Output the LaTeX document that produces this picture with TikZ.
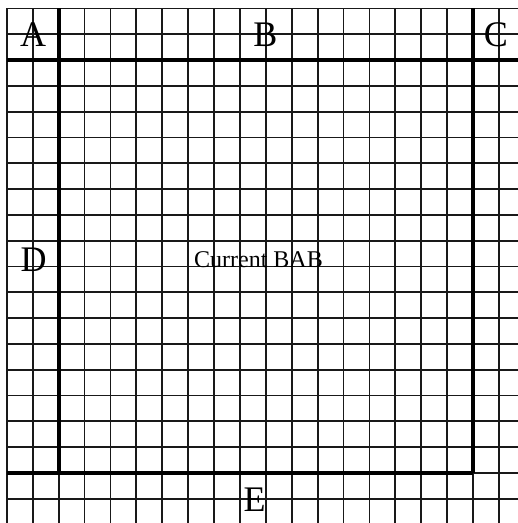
\documentclass[tikz,border=0pt]{standalone}
\usepackage{fontspec}
\setmainfont{Liberation Serif}
\begin{document}
\begin{tikzpicture}[x=1pt,y=-1pt,
  thinline/.style={line width=1.8pt,black!90},
  thickline/.style={line width=4pt,black},
  biglabel/.style={font=\fontsize{36}{36}\selectfont,inner sep=0pt},
  midlabel/.style={font=\fontsize{24}{24}\selectfont,inner sep=0pt}]
\useasboundingbox (0,0) rectangle (518,523);
\begin{scope}
\clip (0,0) rectangle (518,523);
% thin grid
\foreach \k in {0,...,19} {
  \pgfmathsetmacro{\xx}{58.6+25.9*(\k-2)}
  \draw[thinline] (\xx,8.4) -- (\xx,523);
  \pgfmathsetmacro{\yy}{60+25.8*(\k-2)}
  \draw[thinline] (6.8,\yy) -- (518,\yy);
}
% thick lines
\coordinate (tl) at (6.8,60);
\coordinate (tr) at (518,60);
\coordinate (lt) at (58.6,8.4);
\coordinate (lb) at (58.6,472.8);
\coordinate (rt) at (473,8.4);
\coordinate (rb) at (473,472.8);
\coordinate (bl) at (6.8,472.8);
\draw[thickline] (tl) -- (tr);
\draw[thickline] (lt) -- (lb);
\draw[thickline] (rt) -- (rb);
\draw[thickline] (bl) -- (rb);
\end{scope}
\node[biglabel] (A) at (33,34.5) {A};
\node[biglabel] (B) at (265.5,34.5) {B};
\node[biglabel] (C) at (496,34.5) {C};
\node[biglabel] (D) at (33.5,259.5) {D};
\node[biglabel] (E) at (254.5,499.5) {E};
\node[midlabel] (cur) at (258.5,260) {Current BAB};
\end{tikzpicture}
\end{document}
